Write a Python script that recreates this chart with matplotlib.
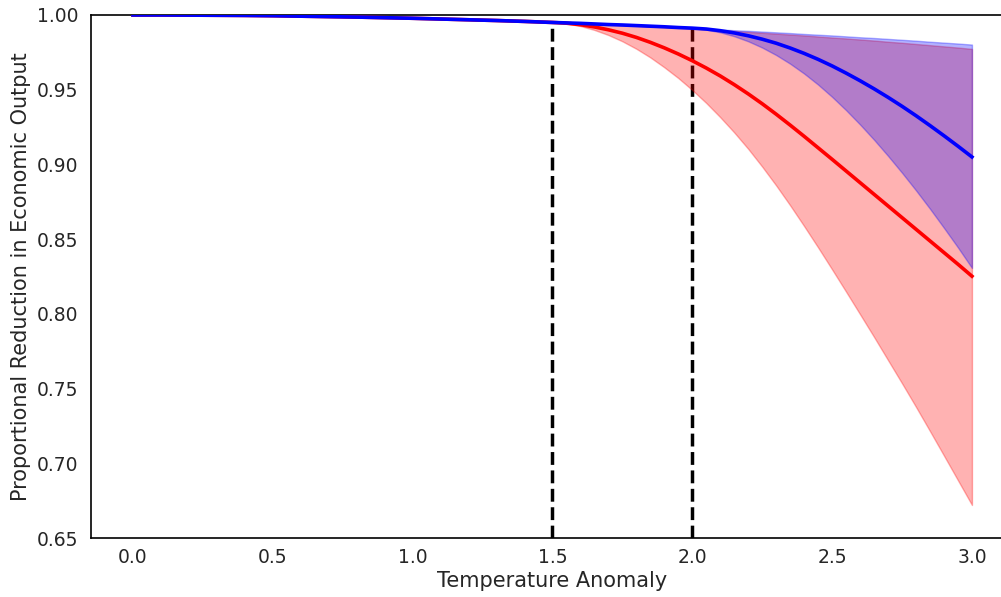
import matplotlib
matplotlib.use('Agg')
import matplotlib.pyplot as plt

# Temperature anomaly grid: 0.1 steps up to 1.5, then 0.05 steps
temp = [0.0, 0.1, 0.2, 0.3, 0.4, 0.5, 0.6, 0.7, 0.8, 0.9,
        1.0, 1.1, 1.2, 1.3, 1.4, 1.5,
        1.55, 1.6, 1.65, 1.7, 1.75, 1.8, 1.85, 1.9, 1.95, 2.0,
        2.05, 2.1, 2.15, 2.2, 2.25, 2.3, 2.35, 2.4, 2.45, 2.5,
        2.55, 2.6, 2.65, 2.7, 2.75, 2.8, 2.85, 2.9, 2.95, 3.0]

# shared part of all curves up to 1.5
common = [1.0000, 1.0000, 0.9999, 0.9998, 0.9997, 0.9995, 0.9992, 0.9989, 0.9986, 0.9982,
          0.9978, 0.9973, 0.9968, 0.9963, 0.9957, 0.9950]

# red scenario (departs at 1.5)
red_mid = common + [0.9945, 0.9935, 0.9920, 0.9901, 0.9878, 0.9850, 0.9817, 0.9780, 0.9739, 0.9694,
                    0.9645, 0.9592, 0.9534, 0.9472, 0.9406, 0.9336, 0.9263, 0.9188, 0.9111, 0.9034,
                    0.8956, 0.8878, 0.8800, 0.8722, 0.8644, 0.8566, 0.8488, 0.8410, 0.8332, 0.8252]
red_low = common + [0.9943, 0.9926, 0.9900, 0.9866, 0.9824, 0.9774, 0.9716, 0.9650, 0.9578, 0.9498,
                    0.9411, 0.9316, 0.9214, 0.9104, 0.8985, 0.8859, 0.8726, 0.8587, 0.8444, 0.8297,
                    0.8148, 0.7997, 0.7845, 0.7690, 0.7535, 0.7377, 0.7215, 0.7051, 0.6886, 0.6721]
red_high = common + [0.9947, 0.9944, 0.9940, 0.9936, 0.9932, 0.9928, 0.9923, 0.9918, 0.9914, 0.9909,
                     0.9904, 0.9898, 0.9893, 0.9887, 0.9881, 0.9875, 0.9869, 0.9863, 0.9856, 0.9849,
                     0.9843, 0.9836, 0.9829, 0.9821, 0.9814, 0.9806, 0.9798, 0.9790, 0.9782, 0.9773]

# blue scenario (departs at 2.0)
blue_common = common + [0.9947, 0.9944, 0.9940, 0.9936, 0.9933, 0.9929, 0.9925, 0.9921, 0.9916, 0.9912]
blue_mid = blue_common + [0.9906, 0.9895, 0.9880, 0.9861, 0.9838, 0.9811, 0.9779, 0.9743, 0.9703, 0.9659,
                          0.9611, 0.9560, 0.9506, 0.9449, 0.9389, 0.9326, 0.9260, 0.9192, 0.9122, 0.9050]
blue_low = blue_common + [0.9902, 0.9884, 0.9858, 0.9824, 0.9782, 0.9732, 0.9674, 0.9608, 0.9534, 0.9452,
                          0.9363, 0.9267, 0.9165, 0.9057, 0.8944, 0.8826, 0.8703, 0.8575, 0.8444, 0.8307]
blue_high = blue_common + [0.9908, 0.9903, 0.9898, 0.9894, 0.9889, 0.9884, 0.9879, 0.9873, 0.9868, 0.9863,
                           0.9857, 0.9851, 0.9846, 0.9840, 0.9834, 0.9828, 0.9821, 0.9815, 0.9809, 0.9802]

thresholds = [1.5, 2.0]
threshold_vals = [0.9950, 0.9912]

fig = plt.figure(figsize=(10.01, 5.97), dpi=100)
ax = fig.add_axes([0.0909, 0.0988, 0.922, 0.8761])

ax.vlines(thresholds, 0.65, threshold_vals, colors='black', linestyles='--', linewidth=2.5, zorder=1)

ax.fill_between(temp, red_low, red_high, color='red', alpha=0.3, zorder=2)
ax.fill_between(temp, blue_low, blue_high, color='blue', alpha=0.3, zorder=3)
ax.plot(temp, red_mid, color='red', linewidth=2.6, zorder=4)
ax.plot(temp, blue_mid, color='blue', linewidth=2.6, zorder=5)

ax.set_xlim(-0.15, 3.15)
ax.set_ylim(0.65, 1.0)
ax.set_xticks([0.0, 0.5, 1.0, 1.5, 2.0, 2.5, 3.0])
ax.set_yticks([0.65, 0.70, 0.75, 0.80, 0.85, 0.90, 0.95, 1.00])
ax.set_yticklabels(['0.65', '0.70', '0.75', '0.80', '0.85', '0.90', '0.95', '1.00'])
ax.tick_params(axis='x', length=0, pad=7, labelsize=13.5, labelcolor='#262626')
ax.tick_params(axis='y', length=0, pad=9, labelsize=13.5, labelcolor='#262626')
for s in ax.spines.values():
    s.set_color('black')
    s.set_linewidth(1.2)

ax.set_xlabel('Temperature Anomaly', fontsize=15, color='#262626', labelpad=3)
ax.set_ylabel('Proportional Reduction in Economic Output', fontsize=15, color='#262626', labelpad=4)

fig.savefig('out.png', dpi=100)
